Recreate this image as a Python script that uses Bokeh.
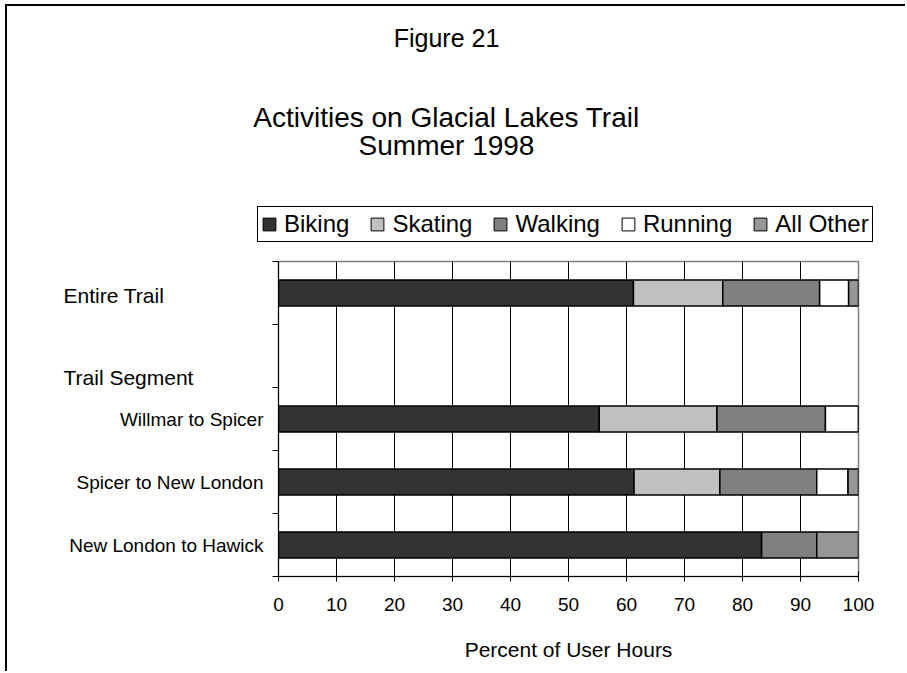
from bokeh.plotting import figure
from bokeh.layouts import column, row
from bokeh.models import (Range1d, FixedTicker, Legend, LegendItem, Label,
                          ColumnDataSource)
from bokeh.embed import file_html
from bokeh.resources import INLINE

# ---------------- data ----------------
rows = ["Entire Trail", "Trail Segment", "Willmar to Spicer",
        "Spicer to New London", "New London to Hawick"]
header_rows = ["Entire Trail", "Trail Segment"]
bar_rows = ["Entire Trail", "Willmar to Spicer", "Spicer to New London",
            "New London to Hawick"]
activities = ["Biking", "Skating", "Walking", "Running", "All Other"]
biking = [61.2, 55.3, 61.3, 83.3]
skating = [15.4, 20.3, 14.8, 0.0]
walking = [16.7, 18.7, 16.7, 9.5]
running = [5.0, 5.7, 5.4, 0.0]
all_other = [1.7, 0.0, 1.8, 7.2]
colors = ["#333333", "#c0c0c0", "#808080", "#ffffff", "#969696"]
x_ticks = [0, 10, 20, 30, 40, 50, 60, 70, 80, 90, 100]
titles = ["Figure 21", "Activities on Glacial Lakes Trail", "Summer 1998"]
x_title = "Percent of User Hours"

FONT = "Liberation Sans"
n = len(rows)
ypos = {r: n - i - 0.5 for i, r in enumerate(rows)}

# ---------------- sizes ----------------
W = 898            # total width
HH = 240           # header height
HR = 425           # chart row height
LW = 263           # label column width
TOP, BOT = 15, 95  # borders of chart row

y_range = Range1d(0, n)

src = ColumnDataSource(dict(
    y=[ypos[r] for r in bar_rows],
    Biking=biking, Skating=skating, Walking=walking,
    Running=running, **{"All Other": all_other}))

# ---------------- header (titles + legend) ----------------
# the header's x range lies away from the data, so its stack only feeds the legend
head = figure(width=W, height=HH, output_backend="svg", toolbar_location=None,
              x_range=Range1d(-2 * W, -W), y_range=Range1d(0, HH),
              x_axis_location=None, y_axis_location=None,
              min_border=0, outline_line_color=None)
head.grid.visible = False
for txt, yy, fs in zip(titles, [209, 129, 101], ["25px", "28px", "28px"]):
    head.add_layout(Label(x=439, y=yy, x_units="screen", y_units="screen",
                          text=txt, text_align="center",
                          text_baseline="middle", text_font=FONT,
                          text_font_size=fs, text_color="black"))
key_renderers = head.hbar_stack(activities, y="y", height=0.41, source=src,
                                fill_color=colors, line_color="black",
                                line_width=1)
legend = Legend(items=[LegendItem(label=a, renderers=[r])
                       for a, r in zip(activities, key_renderers)],
                orientation="horizontal", location=(250, 4),
                label_text_font=FONT, label_text_font_size="24px",
                label_text_color="black", label_height=20,
                glyph_width=16, glyph_height=16, label_standoff=7,
                spacing=20, padding=3, margin=0,
                border_line_color="black", border_line_width=1,
                border_line_alpha=1,
                background_fill_color="white", background_fill_alpha=1)
head.add_layout(legend, "center")

# ---------------- row labels ----------------
lab = figure(width=LW, height=HR, output_backend="svg", toolbar_location=None,
             x_range=Range1d(0, LW), y_range=y_range,
             x_axis_location=None, y_axis_location=None,
             min_border_left=0, min_border_right=0,
             min_border_top=TOP, min_border_bottom=BOT,
             outline_line_color=None)
lab.grid.visible = False
for r in rows:
    if r in header_rows:
        lab.add_layout(Label(x=56, y=ypos[r], x_units="screen",
                             y_offset=(-2 if r == rows[0] else -21),
                             text=r, text_align="left", text_baseline="middle",
                             text_font=FONT, text_font_size="21px",
                             text_color="black"))
    else:
        lab.add_layout(Label(x=256, y=ypos[r], x_units="screen", y_offset=0,
                             text=r, text_align="right", text_baseline="middle",
                             text_font=FONT, text_font_size="19px",
                             text_color="black"))

# ---------------- chart ----------------
p = figure(width=W - LW, height=HR, output_backend="svg",
           toolbar_location=None, x_range=Range1d(0, 100), y_range=y_range,
           min_border_left=8, min_border_right=W - LW - 8 - 580,
           min_border_top=TOP, min_border_bottom=BOT)
p.outline_line_color = "#808080"
p.outline_line_width = 1.5

p.hbar_stack(activities, y="y", height=0.41, source=src,
             fill_color=colors, line_color="black", line_width=1.5)

p.xaxis.ticker = FixedTicker(ticks=x_ticks)
p.xaxis.axis_label = x_title
p.xaxis.axis_label_text_font = FONT
p.xaxis.axis_label_text_font_size = "21px"
p.xaxis.axis_label_text_font_style = "normal"
p.xaxis.axis_label_standoff = 24
p.xaxis.major_label_text_font = FONT
p.xaxis.major_label_text_font_size = "19px"
p.xaxis.major_label_standoff = 16
p.xaxis.major_tick_in = 5
p.xaxis.major_tick_out = 5
p.xaxis.minor_tick_out = 0
p.xaxis.minor_tick_in = 0
p.xaxis.axis_line_color = "black"
p.xaxis.major_tick_line_color = "black"
p.xaxis.major_label_text_color = "black"
p.xaxis.axis_label_text_color = "black"

p.xgrid.ticker = FixedTicker(ticks=x_ticks[1:-1])
p.xgrid.grid_line_color = "black"
p.xgrid.grid_line_width = 1
p.ygrid.visible = False

# band boundaries as unlabeled ticks
p.yaxis.ticker = FixedTicker(ticks=[], minor_ticks=list(range(n + 1)))
p.yaxis.major_tick_in = 0
p.yaxis.major_tick_out = 0
p.yaxis.major_label_standoff = 0
p.yaxis.minor_tick_in = 0
p.yaxis.minor_tick_out = 6
p.yaxis.minor_tick_line_color = "black"
p.yaxis.axis_line_color = "black"

layout = column(head, row(lab, p))
layout.styles = {"border-left": "2px solid black",
                 "border-top": "2px solid black",
                 "margin-left": "5px", "margin-top": "4px"}

open("out.html", "w").write(file_html(layout, INLINE))
